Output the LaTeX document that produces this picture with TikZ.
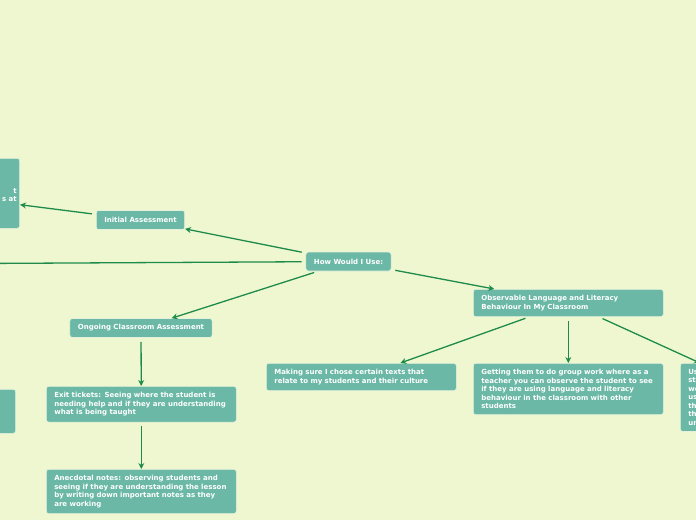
\documentclass[tikz,border=0pt]{standalone}
\usepackage{fontspec}
\setmainfont{DejaVu Sans}
\usetikzlibrary{arrows.meta,positioning}

\definecolor{bgcol}{HTML}{EFF7D1}
\definecolor{boxfill}{HTML}{6AB8A5}
\definecolor{boxline}{HTML}{E4F2DC}
\definecolor{linkcol}{HTML}{1E8B4A}

\begin{document}
\begin{tikzpicture}[x=1pt,y=-1pt,
   box/.style={draw=boxline,fill=boxfill,rounded corners=2.5pt,text=white,line width=0.6pt,
     font=\bfseries\fontsize{7}{8.5}\selectfont,align=left,inner xsep=8pt,inner ysep=6pt},
   wide/.style={box,anchor=north west,text width=174pt},
   small/.style={box,minimum height=19pt,inner ysep=2pt},
   link/.style={draw=linkcol,line width=1.3pt,shorten <=4pt},
   >={Stealth[length=6pt,width=6pt]}]
  \useasboundingbox (0,0) rectangle (696,520);
  \fill[bgcol] (0,0) rectangle (696,520);
  \clip (0,0) rectangle (696,520);
  % centre and first level
  \node[small] (how) at (348.5,261.5) {How Would I Use:};
  \node[small] (init) at (140.5,220) {Initial Assessment};
  \node[small] (ongo) at (141,328) {Ongoing Classroom Assessment};
  \node[wide] (obs) at (473,289) {Observable Language and Literacy\\Behaviour In My Classroom};
  \coordinate (far) at (-300,265);
  % children
  \node[box,anchor=north east,text width=174pt,minimum height=70pt,align=right,inner xsep=3pt] (left) at (20,158) {\mbox{}\\t\\s at};
  \node[box,anchor=north east,minimum width=190pt,minimum height=44pt] (leftb) at (16,389) {};
  \node[wide] (exit) at (46,386) {Exit tickets: Seeing where the student is\\needing help and if they are understanding\\what is being taught};
  \node[wide] (anec) at (46,469) {Anecdotal notes: observing students and\\seeing if they are understanding the lesson\\by writing down important notes as they\\are working};
  \node[wide] (text) at (266,363) {Making sure I chose certain texts that\\relate to my students and their culture};
  \node[wide] (group) at (473,363) {Getting them to do group work where as a\\teacher you can observe the student to see\\if they are using language and literacy\\behaviour in the classroom with other\\students};
  \node[wide] (rt) at (680,363) {Us\\st\\we\\us\\th\\th\\un};
  % links
  \draw[link,->] (how) -- (init);
  \draw[link,->] (init) -- (left);
  \draw[link] (how) -- (far);
  \draw[link,->] (how) -- (ongo);
  \draw[link,->] (how) -- (obs);
  \draw[link,->] (ongo) -- (exit);
  \draw[link,->] (exit) -- (anec);
  \draw[link,->] (obs) -- (text);
  \draw[link,->] (obs) -- (group);
  \draw[link,->] (obs) -- (rt);
\end{tikzpicture}
\end{document}
